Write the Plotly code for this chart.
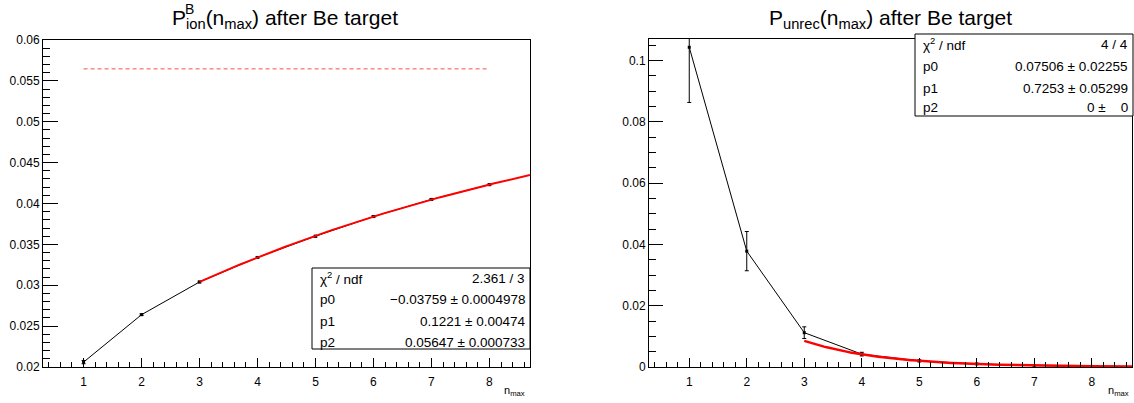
import numpy as np
import plotly.graph_objects as go

W, H = 1134, 403

# ---------------- data ----------------
n_max = [1, 2, 3, 4, 5, 6, 7, 8]
p_ion = [0.0206, 0.0264, 0.0304, 0.0334, 0.0360, 0.0384, 0.0405, 0.0423]
p_ion_err = [0.0002, 0.0001, 0.0001, 0.0001, 0.0001, 0.0001, 0.0001, 0.0001]
p_unrec = [0.1043, 0.0378, 0.0112, 0.0042, 0.0020, 0.0010, 0.0005, 0.0002]
p_unrec_err = [0.0180, 0.0064, 0.0019, 0.0006, 0.0003, 0.0002, 0.0001, 0.0001]

# fit results (from the stats boxes)
ion_fit = {"p0": -0.03759, "p1": 0.1221, "p2": 0.05647}
unrec_fit = {"p0": 0.07506, "p1": 0.7253, "p2": 0.0}
fit_range = [3, 8.7]

ion_stats = [("χ<sup>2</sup> / ndf", "2.361 / 3"),
             ("p0", "\u22120.03759 ± 0.0004978"),
             ("p1", "0.1221 ± 0.00474"),
             ("p2", "0.05647 ± 0.000733")]
unrec_stats = [("χ<sup>2</sup> / ndf", "4 / 4"),
               ("p0", "0.07506 ± 0.02255"),
               ("p1", "0.7253 ± 0.05299"),
               ("p2", "0 ±\u00a0\u00a0\u00a0\u00a00")]

FONT = "Liberation Sans, Arial, Helvetica, sans-serif"


def px(x):
    return x / W


def py(y):
    return 1 - y / H


fig = go.Figure()

# ---------- left panel ----------
fig.add_trace(go.Scatter(
    x=n_max, y=p_ion, mode="lines+markers",
    line=dict(color="black", width=1),
    marker=dict(symbol="square", size=3, color="black"),
    error_y=dict(type="data", array=p_ion_err, color="black", thickness=1, width=2),
    xaxis="x", yaxis="y", showlegend=False))

xf = np.linspace(fit_range[0], fit_range[1], 200)
yf_ion = ion_fit["p2"] + ion_fit["p0"] * np.exp(-ion_fit["p1"] * xf)
fig.add_trace(go.Scatter(x=xf, y=yf_ion, mode="lines",
                         line=dict(color="#ff0000", width=2),
                         xaxis="x", yaxis="y", showlegend=False))
fig.add_trace(go.Scatter(x=[n_max[0], n_max[-1]], y=[ion_fit["p2"], ion_fit["p2"]],
                         mode="lines",
                         line=dict(color="#ff4d4d", width=1, dash="4px,3px"),
                         xaxis="x", yaxis="y", showlegend=False))

# ---------- right panel ----------
fig.add_trace(go.Scatter(
    x=n_max, y=p_unrec, mode="lines+markers",
    line=dict(color="black", width=1),
    marker=dict(symbol="square", size=3, color="black"),
    error_y=dict(type="data", array=p_unrec_err, color="black", thickness=1, width=2),
    xaxis="x2", yaxis="y2", showlegend=False))
yf_unrec = unrec_fit["p0"] * np.exp(-unrec_fit["p1"] * xf) + unrec_fit["p2"]
fig.add_trace(go.Scatter(x=xf, y=yf_unrec, mode="lines",
                         line=dict(color="#ff0000", width=2.5),
                         xaxis="x2", yaxis="y2", showlegend=False))

axis_common = dict(showline=True, linecolor="black", linewidth=1, mirror=True,
                   showgrid=False, zeroline=False, ticks="inside", tickcolor="black",
                   tickwidth=1, automargin=False,
                   tickfont=dict(family=FONT, size=12, color="black"))

xdict = dict(axis_common, range=[0.3, 8.7], tick0=0, dtick=1, ticklen=9,
             ticklabelstandoff=4,
             minor=dict(ticks="inside", dtick=0.2, ticklen=5, tickcolor="black", tickwidth=1))

top, bot = 40, 367
fig.update_layout(
    width=W, height=H, margin=dict(l=0, r=0, t=0, b=0, autoexpand=False),
    paper_bgcolor="white", plot_bgcolor="white", showlegend=False,
    xaxis=dict(xdict, domain=[px(43), px(530)], anchor="y"),
    yaxis=dict(axis_common, domain=[py(bot), py(top)], anchor="x",
               range=[0.02, 0.06], dtick=0.005, ticklen=15,
               minor=dict(ticks="inside", dtick=0.001, ticklen=7, tickcolor="black", tickwidth=1)),
    xaxis2=dict(xdict, domain=[px(649), px(1132)], anchor="y2"),
    yaxis2=dict(axis_common, domain=[py(bot), py(39)], anchor="x2",
                range=[0, 0.107], dtick=0.02, ticklen=14,
                minor=dict(ticks="inside", dtick=0.005, ticklen=7, tickcolor="black", tickwidth=1)),
)

ann = []
shapes = []

# titles
ann.append(dict(text="P<sub>ion</sub>(n<sub>max</sub>) after Be target",
                x=px(285), y=py(19), xref="paper", yref="paper",
                xanchor="center", yanchor="middle", showarrow=False,
                font=dict(family=FONT, size=21, color="black")))
ann.append(dict(text="B", x=px(189), y=py(9), xref="paper", yref="paper",
                xanchor="center", yanchor="middle", showarrow=False,
                font=dict(family=FONT, size=14, color="black")))
ann.append(dict(text="P<sub>unrec</sub>(n<sub>max</sub>) after Be target",
                x=px(890), y=py(19), xref="paper", yref="paper",
                xanchor="center", yanchor="middle", showarrow=False,
                font=dict(family=FONT, size=21, color="black")))

# axis titles
for xr in (527, 1131):
    ann.append(dict(text="n<sub>max</sub>", x=px(xr), y=py(391), xref="paper", yref="paper",
                    xanchor="right", yanchor="middle", showarrow=False,
                    font=dict(family=FONT, size=11, color="black")))


def stats_box(x0, x1, y0, y1, rows, rowy):
    shapes.append(dict(type="rect", xref="paper", yref="paper",
                       x0=px(x0), x1=px(x1), y0=py(y1), y1=py(y0),
                       line=dict(color="black", width=1), fillcolor="white", layer="above"))
    for (lab, val), yy in zip(rows, rowy):
        ann.append(dict(text=lab, x=px(x0 + 6), y=py(yy), xref="paper", yref="paper",
                        xanchor="left", yanchor="middle", showarrow=False,
                        font=dict(family=FONT, size=13.5, color="black")))
        ann.append(dict(text=val, x=px(x1 - 3), y=py(yy), xref="paper", yref="paper",
                        xanchor="right", yanchor="middle", showarrow=False,
                        font=dict(family=FONT, size=13.5, color="black")))


stats_box(312, 530, 268, 349, ion_stats, [278, 299, 321, 342])
stats_box(915, 1133, 34, 116, unrec_stats, [44, 66, 88, 108])

fig.update_layout(annotations=ann, shapes=shapes)
fig.write_html("out.html", config={"displayModeBar": False},
               post_script="document.body.style.margin='0';document.body.style.overflow='hidden';")
